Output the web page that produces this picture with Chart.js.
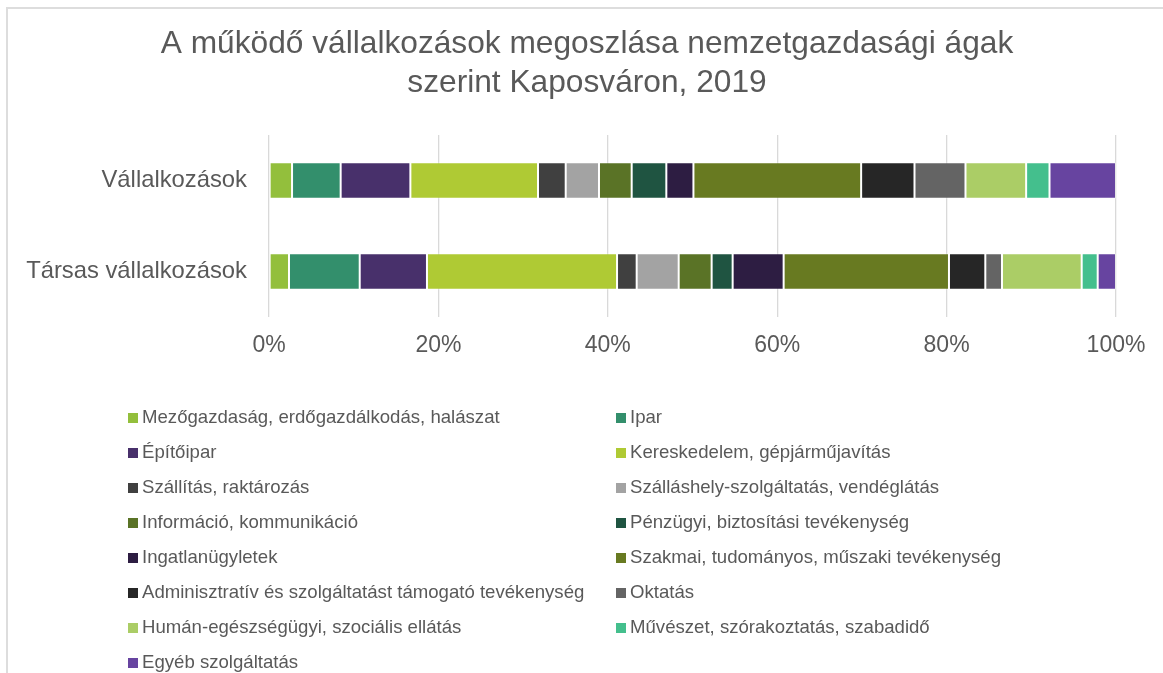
<!DOCTYPE html>
<html>
<head>
<meta charset="utf-8">
<script src="https://cdn.jsdelivr.net/npm/chart.js@4.4.1/dist/chart.umd.min.js"></script>
<style>
html,body{margin:0;padding:0;background:#fff;overflow:hidden}
#wrap{position:relative;width:1163px;height:673px;overflow:hidden}
#frame{position:absolute;left:6px;top:7px;width:1250px;height:750px;border-left:2px solid #dddddd;border-top:2px solid #dddddd;pointer-events:none}
canvas{position:absolute;left:0;top:0}
</style>
</head>
<body>
<div id="wrap"><canvas id="c" width="1163" height="673"></canvas><div id="frame"></div></div>
<script>
const TITLE = ['A működő vállalkozások megoszlása nemzetgazdasági ágak', 'szerint Kaposváron, 2019'];
const categories = ['Vállalkozások', 'Társas vállalkozások'];
const sectors = [
  'Mezőgazdaság, erdőgazdálkodás, halászat',
  'Ipar',
  'Építőipar',
  'Kereskedelem, gépjárműjavítás',
  'Szállítás, raktározás',
  'Szálláshely-szolgáltatás, vendéglátás',
  'Információ, kommunikáció',
  'Pénzügyi, biztosítási tevékenység',
  'Ingatlanügyletek',
  'Szakmai, tudományos, műszaki tevékenység',
  'Adminisztratív és szolgáltatást támogató tevékenység',
  'Oktatás',
  'Humán-egészségügyi, szociális ellátás',
  'Művészet, szórakoztatás, szabadidő',
  'Egyéb szolgáltatás'
];
// share in percent
const vallalkozasok = [2.72, 5.74, 8.23, 15.07, 3.27, 3.93, 3.86, 4.09, 3.20, 19.80, 6.30, 6.02, 7.16, 2.76, 7.85];
const tarsasVallalkozasok = [2.36, 8.35, 7.94, 22.44, 2.32, 4.96, 3.89, 2.48, 6.02, 19.52, 4.29, 1.97, 9.41, 1.89, 2.16];
const xTickValues = [0, 20, 40, 60, 80, 100];

const colors = ['#93bf3c', '#338f6c', '#48306b', '#afca34', '#404040', '#a3a3a3', '#5a7326', '#1f5441',
                '#2d1d42', '#687a21', '#262626', '#646464', '#abcd66', '#44bf8d', '#6744a0'];

const FONT = "'Liberation Sans', Arial, sans-serif";
const TXT = '#595959';

const datasets = sectors.map((name, i) => ({
  label: name,
  data: [vallalkozasok[i], tarsasVallalkozasok[i]],
  backgroundColor: colors[i],
  borderColor: 'rgba(255,255,255,0.35)',
  borderWidth: 1,
  borderSkipped: false,
  barPercentage: 0.4,
  categoryPercentage: 1.0
}));

const titleShift = {
  id: 'titleShift',
  afterLayout(chart) {
    const t = chart.titleBlock;
    if (t) { t.left = 0; t.right = 1174; }
  }
};

const gridLegend = {
  id: 'gridLegend',
  afterDraw(chart) {
    const ctx = chart.ctx;
    ctx.save();
    ctx.font = '18.6px ' + FONT;
    ctx.textBaseline = 'middle';
    ctx.textAlign = 'left';
    const colX = [128, 616];
    chart.data.datasets.forEach((ds, i) => {
      const col = i % 2, row = Math.floor(i / 2);
      const x = colX[col];
      const y = 418 + row * 35;
      ctx.fillStyle = ds.backgroundColor;
      ctx.fillRect(x, y - 5, 10, 10);
      ctx.fillStyle = TXT;
      ctx.fillText(ds.label, x + 14, y);
    });
    ctx.restore();
  }
};

new Chart(document.getElementById('c'), {
  type: 'bar',
  data: { labels: categories, datasets },
  plugins: [titleShift, gridLegend],
  options: {
    indexAxis: 'y',
    responsive: false,
    animation: false,
    devicePixelRatio: 1,
    layout: { padding: { left: 0, right: 47, top: 0, bottom: 0 } },
    plugins: {
      legend: { display: false },
      tooltip: { enabled: false },
      title: {
        display: true,
        text: TITLE,
        color: TXT,
        font: { family: FONT, size: 31.7, weight: 'normal', lineHeight: 1.22 },
        padding: { top: 25, bottom: 32.6 }
      }
    },
    scales: {
      x: {
        stacked: true,
        min: 0,
        max: 100,
        afterBuildTicks: s => { s.ticks = xTickValues.map(v => ({ value: v })); },
        ticks: { callback: v => v + '%', color: TXT, font: { family: FONT, size: 23 }, padding: 15, maxRotation: 0 },
        grid: { color: '#d9d9d9', lineWidth: 1.3, drawTicks: false },
        border: { display: false },
        afterFit: s => { s.height = 673 - 317; }
      },
      y: {
        stacked: true,
        ticks: { color: TXT, font: { family: FONT, size: 23.8 }, padding: 22 },
        grid: { display: false, drawTicks: false },
        border: { display: false },
        afterFit: s => { s.width = 269; }
      }
    }
  }
});
</script>
</body>
</html>
